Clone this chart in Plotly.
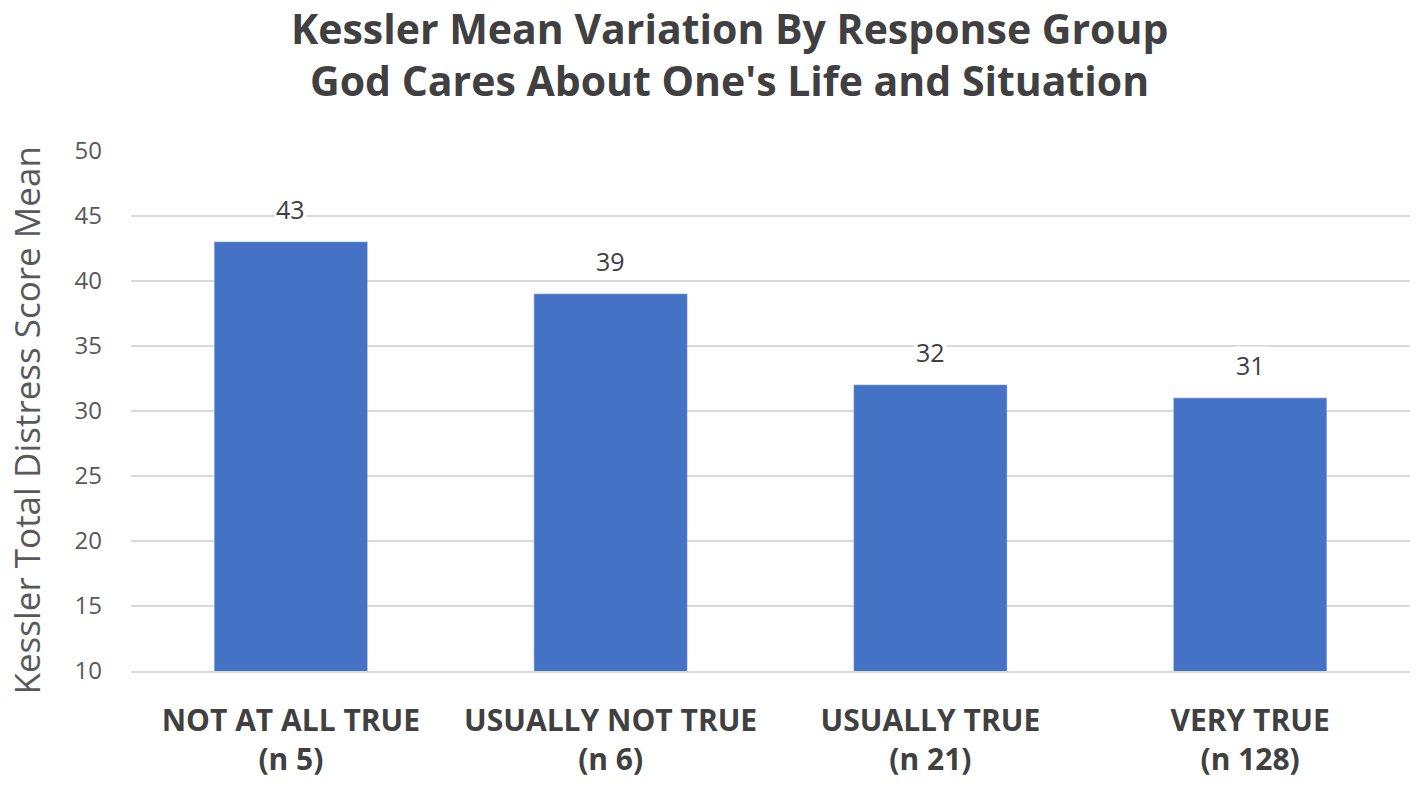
import plotly.graph_objects as go

categories = ["<b>NOT AT ALL TRUE</b><br><b>(n 5)</b>",
              "<b>USUALLY NOT TRUE</b><br><b>(n 6)</b>",
              "<b>USUALLY TRUE</b><br><b>(n 21)</b>",
              "<b>VERY TRUE</b><br><b>(n 128)</b>"]
means = [43, 39, 32, 31]
y_ticks = [10, 15, 20, 25, 30, 35, 40, 45, 50]
title_lines = ["Kessler Mean Variation By Response Group",
               "God Cares About One's Life and Situation"]
y_title = "Kessler Total Distress Score Mean"

bars = go.Bar(
    x = categories,
    y = means,
    marker_color = "#4472C4",
)

fig = go.Figure(bars)

# value labels above the bars (white box breaks the gridline like the original)
for cat, v in zip(categories, means):
    fig.add_annotation(
        x = cat, y = v,
        text = str(v),
        showarrow = False,
        yanchor = "bottom",
        yshift = 14,
        bgcolor = "white",
        font = dict(size=25, color="#404040"),
    )

# two-line title
for txt, yy in zip(title_lines, [1.234, 1.134]):
    fig.add_annotation(
        x = 0.468, y = yy,
        xref = "paper", yref = "paper",
        text = "<b>" + txt + "</b>",
        showarrow = False,
        yanchor = "middle",
        borderpad = 0,
        font = dict(size=41, color="#404040"),
    )

# y axis title, placed by hand so it sits close to the left edge
fig.add_annotation(
    x = -0.082, y = 0.481,
    xref = "paper", yref = "paper",
    xanchor = "center", yanchor = "middle",
    text = y_title,
    textangle = -90,
    showarrow = False,
    borderpad = 0,
    font = dict(size=35, color="#595959"),
)

fig.update_layout(
    width = 1417,
    height = 792,
    paper_bgcolor = "white",
    plot_bgcolor = "white",
    font = dict(family="Open Sans", color="#595959"),
    margin = dict(l=131, r=7, t=150, b=121),
    bargap = 0.52,
    showlegend = False,
)
fig.update_yaxes(
    range = [10, 50.05],
    tickvals = y_ticks,
    showgrid = True,
    gridcolor = "#d9d9d9",
    gridwidth = 1.5,
    zeroline = False,
    tickfont = dict(size=24, color="#595959"),
    ticklabelstandoff = 28,
)
fig.update_xaxes(
    showline = True,
    linecolor = "#d9d9d9",
    linewidth = 1.5,
    tickfont = dict(size=30, color="#404040"),
    ticklabelstandoff = 22,
)

# drop the default page margin so the figure fills the window exactly
fig.write_html("out.html",
               config={"displayModeBar": False},
               post_script="document.body.style.margin = '0';")
